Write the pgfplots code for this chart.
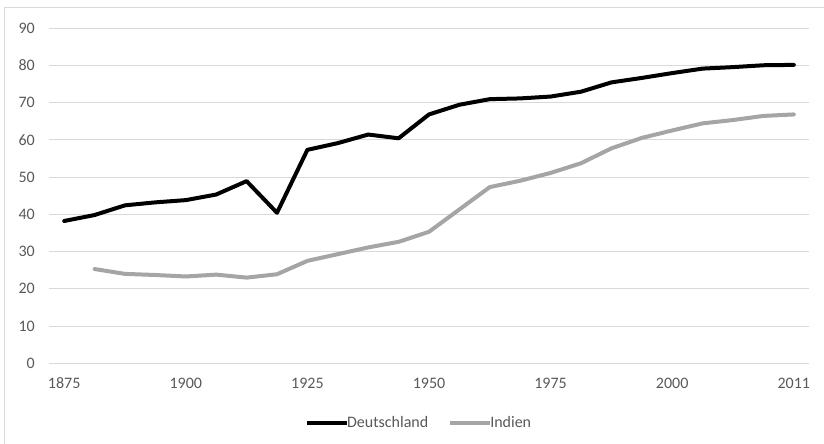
\documentclass[border=0pt]{standalone}
\usepackage{fontspec}
\setmainfont{Carlito}
\usepackage{pgfplots}
\pgfplotsset{compat=1.18}
\definecolor{gridgray}{HTML}{D9D9D9}
\definecolor{labelgray}{HTML}{595959}
\definecolor{indgray}{HTML}{A5A5A5}
\begin{document}
\begin{tikzpicture}
\useasboundingbox (0,0) rectangle (824pt,444pt);
\draw[gridgray, line width=1pt] (4.3pt,0pt) -- (4.3pt,436pt) -- (824pt,436pt);
\begin{axis}[
  at={(49pt,80.7pt)}, anchor=south west,
  scale only axis, width=760pt, height=335.3pt,
  xmin=-0.5, xmax=24.5, ymin=0, ymax=90,
  xtick={0,4,8,12,16,20,24},
  xticklabels={1875,1900,1925,1950,1975,2000,2011},
  ytick={0,10,...,90},
  axis line style={draw=none},
  major tick length=0pt,
  ymajorgrids,
  grid style={gridgray, line width=1pt},
  /pgf/number format/assume math mode=true,
  ticklabel style={font=\fontsize{16}{19}\selectfont, text=labelgray},
  xticklabel style={yshift=-11pt},
  yticklabel style={xshift=-10.7pt},
  legend columns=2,
  legend style={at={(axis description cs:0.487,-0.178)}, anchor=center, draw=none,
    font=\fontsize{16}{19}\selectfont, text=labelgray, inner sep=0pt,
    /tikz/every even column/.append style={column sep=18pt}},
  legend image code/.code={\draw[#1, line cap=butt] (0pt,0pt) -- (40pt,0pt);},
  legend cell align=left,
]
\addplot[black, line width=4pt, line join=round, line cap=round] coordinates {
(0,38.2) (1,39.8) (2,42.4) (3,43.2) (4,43.8) (5,45.3) (6,48.9) (7,40.4)
(8,57.3) (9,59.1) (10,61.4) (11,60.4) (12,66.8) (13,69.4) (14,70.9) (15,71.1)
(16,71.6) (17,72.9) (18,75.4) (19,76.6) (20,77.9) (21,79.1) (22,79.5) (23,80.0) (24,80.1)
};
\addlegendentry{\hspace{-4pt}Deutschland}
\addplot[indgray, line width=4pt, line join=round, line cap=round] coordinates {
(1,25.3) (2,24.0) (3,23.7) (4,23.3) (5,23.8) (6,23.0) (7,23.9)
(8,27.5) (9,29.3) (10,31.1) (11,32.6) (12,35.3) (13,41.3) (14,47.3) (15,49.0)
(16,51.1) (17,53.7) (18,57.7) (19,60.5) (20,62.5) (21,64.4) (22,65.3) (23,66.4) (24,66.8)
};
\addlegendentry{\hspace{-4pt}Indien}
\end{axis}
\end{tikzpicture}
\end{document}
